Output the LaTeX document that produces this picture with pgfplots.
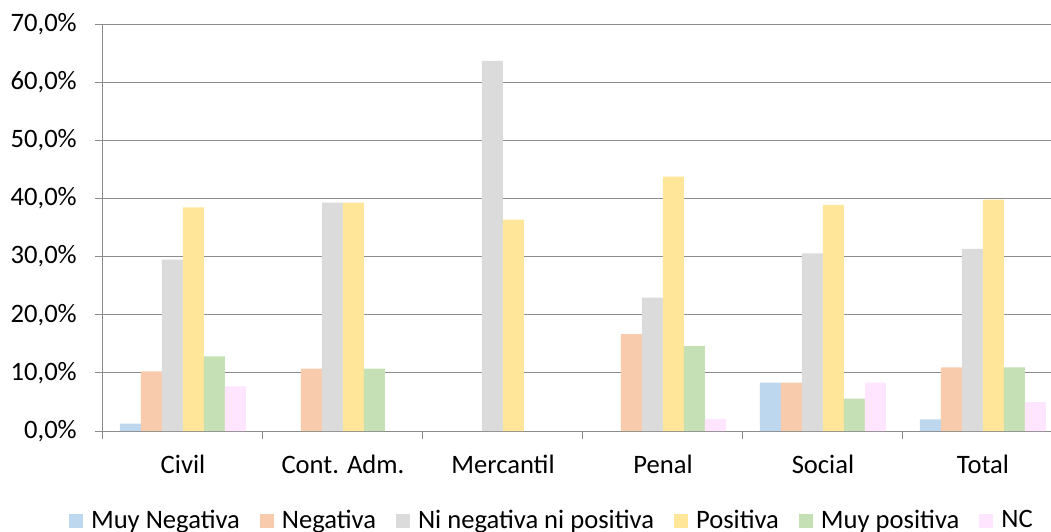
\documentclass[border=0pt]{standalone}
\usepackage{pgfplots}
\pgfplotsset{compat=1.18}
\usepackage{fontspec}
\setmainfont{Carlito}

\definecolor{cMN}{HTML}{BDD7EE}
\definecolor{cNeg}{HTML}{F8CBAD}
\definecolor{cNi}{HTML}{DBDBDB}
\definecolor{cPos}{HTML}{FFE699}
\definecolor{cMP}{HTML}{C5E0B4}
\definecolor{cNC}{HTML}{FFE5FF}
\definecolor{gridc}{HTML}{8C8C8C}

\pgfplotsset{sq/.style={draw=none, legend image code/.code={\fill[##1] (0pt,-3.5pt) rectangle (7pt,3.5pt);}}}

\begin{document}
\fontsize{13.3pt}{15.5pt}\selectfont
\begin{tikzpicture}
\clip (0,0) rectangle (525.5pt,265.5pt);
\begin{axis}[
    at={(51.5pt,50pt)}, anchor=south west,
    scale only axis, width=480pt, height=203.5pt,
    ybar=0pt, bar width=10.5pt,
    xmin=-0.5, xmax=5.5, ymin=0, ymax=70,
    axis x line*=bottom, axis y line*=left,
    axis line style={gridc, line width=0.5pt, -},
    xtick={-0.5,0.5,...,5.5},
    x tick label as interval,
    xticklabels={Civil, Cont. Adm., Mercantil, Penal, Social, Total},
    xticklabel style={yshift=-3.5pt},
    ytick={0,10,...,70},
    yticklabels={{0,0\%},{10,0\%},{20,0\%},{30,0\%},{40,0\%},{50,0\%},{60,0\%},{70,0\%}},
    yticklabel style={xshift=-4.5pt},
    tick align=outside, major tick length=4pt,
    tick style={gridc, line width=0.5pt},
    ymajorgrids, grid style={gridc, line width=0.5pt},
    legend columns=-1,
    legend style={at={(-0.0358,-0.221)}, anchor=west, draw=none, inner sep=0pt,
        nodes={inner sep=0pt},
        /tikz/every odd column/.style={column sep=4pt},
        /tikz/every even column/.style={column sep=10pt}},
]
\addplot[sq, fill=cMN] coordinates {(0,1.28) (4,8.33) (5,1.99)};
\addplot[sq, fill=cNeg] coordinates {(0,10.26) (1,10.71) (3,16.67) (4,8.33) (5,10.95)};
\addplot[sq, fill=cNi] coordinates {(0,29.49) (1,39.29) (2,63.64) (3,22.92) (4,30.56) (5,31.34)};
\addplot[sq, fill=cPos] coordinates {(0,38.46) (1,39.29) (2,36.36) (3,43.75) (4,38.89) (5,39.80)};
\addplot[sq, fill=cMP] coordinates {(0,12.82) (1,10.71) (3,14.58) (4,5.56) (5,10.95)};
\addplot[sq, fill=cNC] coordinates {(0,7.69) (3,2.08) (4,8.33) (5,4.98)};
\legend{Muy Negativa, Negativa, Ni negativa ni positiva, Positiva, Muy positiva, NC}
\end{axis}
\end{tikzpicture}
\end{document}
